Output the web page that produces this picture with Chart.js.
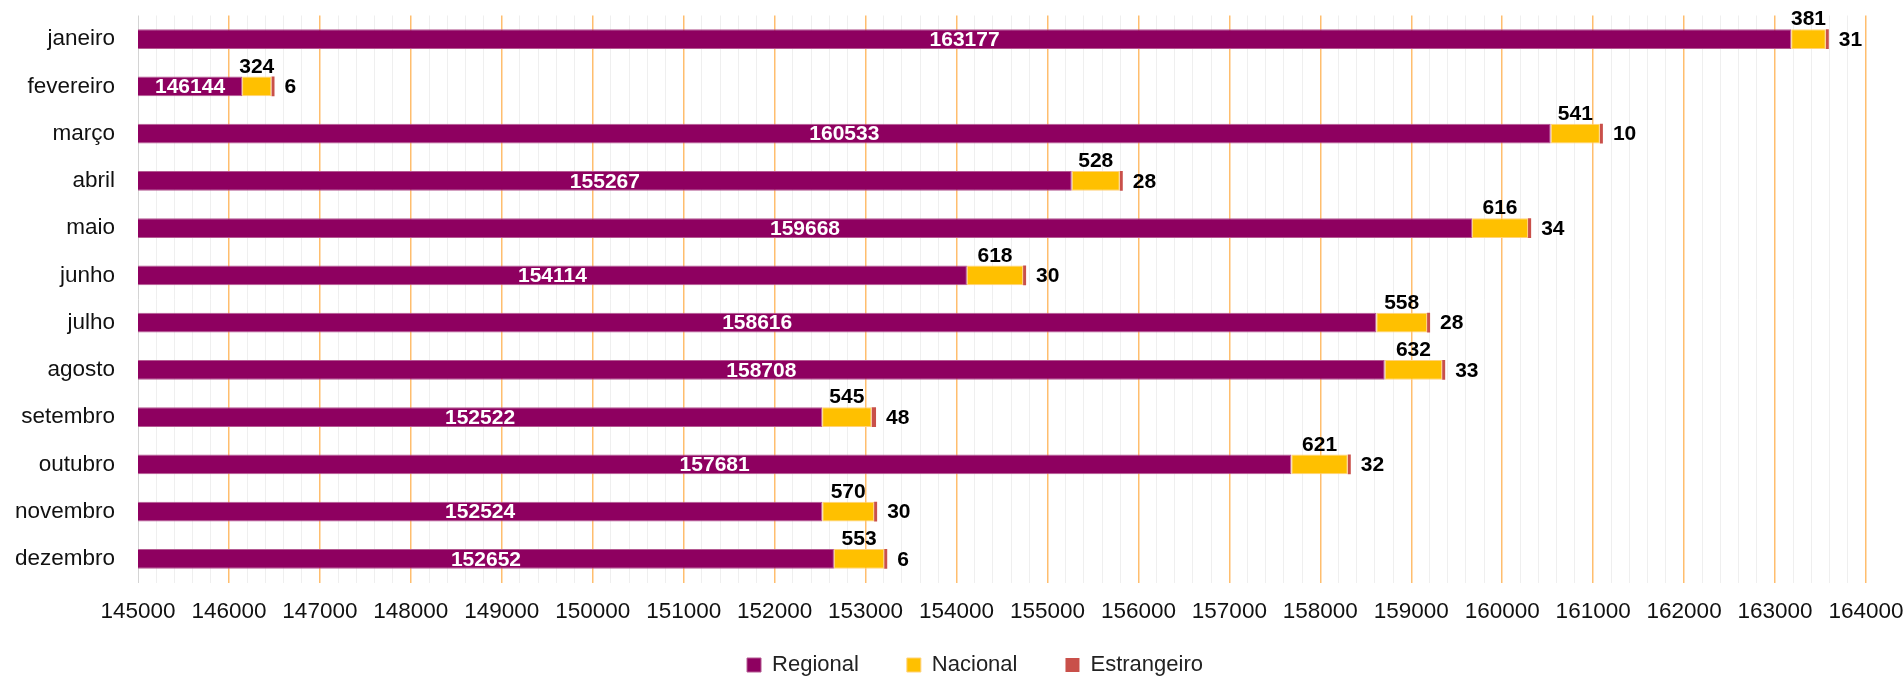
<!DOCTYPE html>
<html><head><meta charset="utf-8">
<script src="https://cdn.jsdelivr.net/npm/chart.js@4.4.1/dist/chart.umd.min.js"></script>
<style>html,body{margin:0;padding:0;background:#fff;overflow:hidden}#wrap{width:1903px;height:677px;position:relative}</style>
</head><body><div id="wrap"><canvas id="c"></canvas></div>
<script>
const months = ['janeiro','fevereiro','março','abril','maio','junho','julho','agosto','setembro','outubro','novembro','dezembro'];
const regional = [163177,146144,160533,155267,159668,154114,158616,158708,152522,157681,152524,152652];
const nacional = [381,324,541,528,616,618,558,632,545,621,570,553];
const estrangeiro = [31,6,10,28,34,30,28,33,48,32,30,6];
const seriesNames = ['Regional','Nacional','Estrangeiro'];
const xMin = 145000, xMax = 164000, majorStep = 1000, minorStep = 200;

const FONT = '"Liberation Sans", Arial, sans-serif';

const labelPlugin = {
  id: 'barLabels',
  afterLayout(chart) {
    const lg = chart.legend;
    if (lg) {
      lg.left += 42; lg.right += 42;
      const dy = 665 - (lg.top + 48 + 11);
      lg.top += dy; lg.bottom += dy;
    }
  },
  afterDatasetsDraw(chart) {
    const ctx = chart.ctx, area = chart.chartArea;
    ctx.save();
    ctx.font = 'bold 21px ' + FONT;
    const m0 = chart.getDatasetMeta(0), m1 = chart.getDatasetMeta(1), m2 = chart.getDatasetMeta(2);
    m0.data.forEach((bar, i) => {
      const left = Math.max(Math.min(bar.base, bar.x), area.left);
      ctx.fillStyle = '#ffffff'; ctx.textAlign = 'center'; ctx.textBaseline = 'middle';
      ctx.fillText(String(regional[i]), (left + bar.x) / 2, bar.y + 1);
    });
    m1.data.forEach((bar, i) => {
      ctx.fillStyle = '#000000'; ctx.textAlign = 'center'; ctx.textBaseline = 'bottom';
      ctx.fillText(String(nacional[i]), (bar.base + bar.x) / 2, bar.y - bar.height / 2 + 1);
    });
    m2.data.forEach((bar, i) => {
      ctx.fillStyle = '#000000'; ctx.textAlign = 'left'; ctx.textBaseline = 'middle';
      ctx.fillText(String(estrangeiro[i]), Math.max(bar.x, bar.base) + 10, bar.y + 1);
    });
    ctx.restore();
  }
};

new Chart(document.getElementById('c'), {
  type: 'bar',
  data: {
    labels: months,
    datasets: [
      { label: seriesNames[0], data: regional, backgroundColor: '#8E0060', borderColor: '#B45A92', borderWidth: 1, borderSkipped: false },
      { label: seriesNames[1], data: nacional, backgroundColor: '#FFC000', borderColor: '#FFD27A', borderWidth: 1, borderSkipped: false },
      { label: seriesNames[2], data: estrangeiro, backgroundColor: '#C9504A', borderColor: '#C9504A', borderWidth: 0, minBarLength: 3 }
    ]
  },
  options: {
    indexAxis: 'y',
    responsive: true,
    maintainAspectRatio: false,
    animation: false,
    devicePixelRatio: 1,
    datasets: { bar: { categoryPercentage: 1, barPercentage: 0.423 } },
    layout: { padding: { top: 15.5, bottom: -29.5, left: 0, right: 37 } },
    plugins: {
      legend: {
        position: 'bottom',
        labels: { boxWidth: 14, boxHeight: 14, padding: 48, color: '#222', font: { size: 22, family: FONT } }
      },
      tooltip: { enabled: false }
    },
    scales: {
      x: {
        type: 'linear',
        stacked: true,
        min: xMin, max: xMax,
        border: { display: false },
        afterFit: (s) => { s.height = 44; s.paddingLeft = 0; s.paddingRight = 0; s.paddingTop = 0; s.paddingBottom = 0; },
        grid: {
          drawTicks: false,
          color: (c) => {
            const v = c.tick ? c.tick.value : NaN;
            if (v === xMin) return '#d4d4d4';
            return (v % majorStep === 0) ? '#FFBE6E' : '#efefef';
          },
          lineWidth: (c) => {
            const v = c.tick ? c.tick.value : NaN;
            return (v % majorStep === 0 && v !== xMin) ? 1.5 : 1;
          }
        },
        ticks: {
          stepSize: minorStep,
          autoSkip: false,
          maxRotation: 0,
          padding: 16,
          color: '#111',
          font: { size: 22.5, family: FONT },
          callback: (v) => (v % majorStep === 0 ? String(v) : '')
        }
      },
      y: {
        stacked: true,
        grid: { display: false, drawTicks: false },
        border: { display: false },
        afterFit: (s) => { s.width = 138; s.paddingTop = 0; s.paddingBottom = 0; },
        ticks: { padding: 23, color: '#111', font: { size: 22.5, family: FONT } }
      }
    }
  },
  plugins: [labelPlugin]
});
</script>
</body></html>
